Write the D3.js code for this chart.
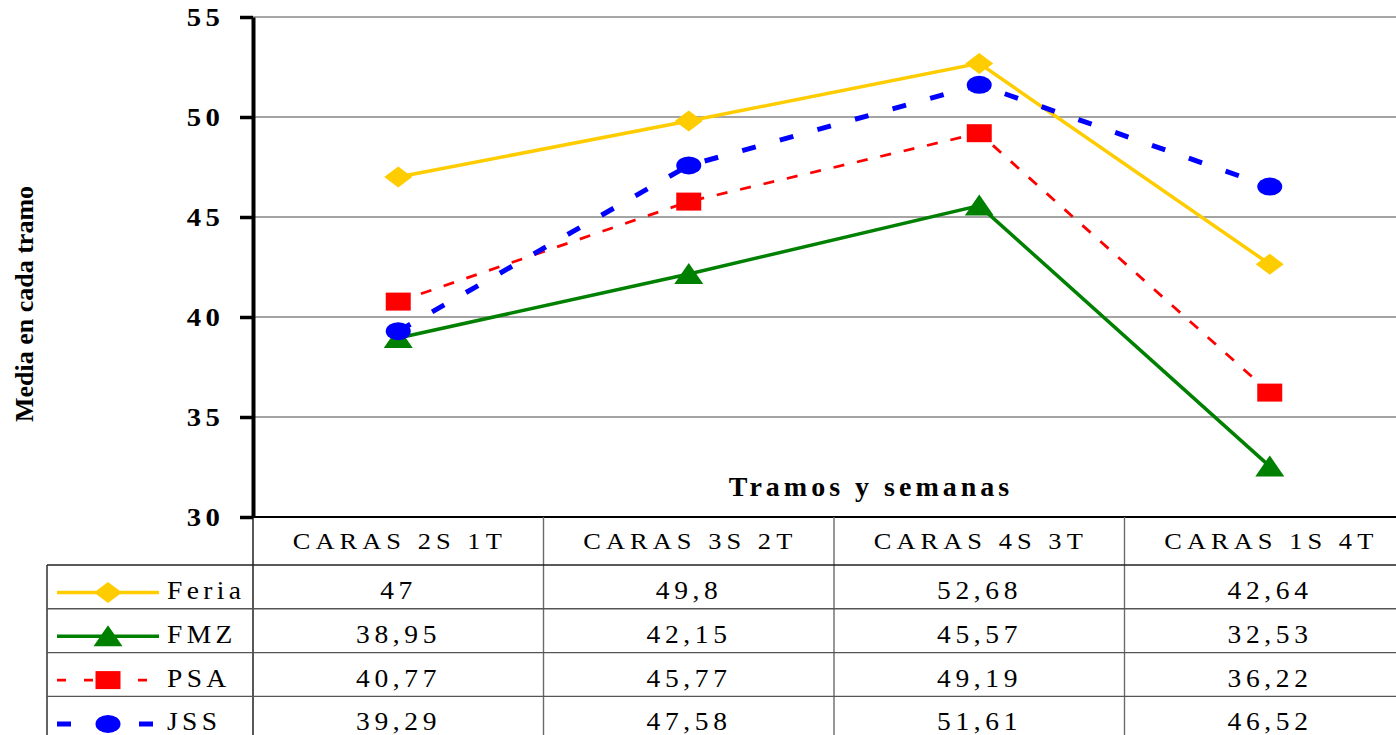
<!DOCTYPE html>
<html><head><meta charset="utf-8">
<script src="https://cdn.jsdelivr.net/npm/d3@7"></script>
<style>
html,body{margin:0;padding:0;background:#fff;overflow:hidden;}
svg{display:block;font-family:"Liberation Serif","Times New Roman",serif;}
</style></head><body>
<svg id="chart" width="1396" height="735"></svg>
<script>
// ---- data ----
const categories = ["CARAS 2S 1T", "CARAS 3S 2T", "CARAS 4S 3T", "CARAS 1S 4T"];
const seriesNames = ["Feria", "FMZ", "PSA", "JSS"];
const feriaValues = [47, 49.8, 52.68, 42.64];
const fmzValues = [38.95, 42.15, 45.57, 32.53];
const psaValues = [40.77, 45.77, 49.19, 36.22];
const jssValues = [39.29, 47.58, 51.61, 46.52];
const yTicks = [30, 35, 40, 45, 50, 55];
const yTitle = "Media en cada tramo";
const xTitle = "Tramos y semanas";

const seriesValues = [feriaValues, fmzValues, psaValues, jssValues];
const seriesStyle = [
  {color: "#FFCC00", width: 3.5, dash: null, legendDash: null, marker: "diamond"},
  {color: "#008000", width: 3.5, dash: null, legendDash: null, marker: "triangle"},
  {color: "#FF0000", width: 2.8, dash: "11,13", legendDash: "9,18", marker: "square"},
  {color: "#0000FF", width: 5, dash: "14,25", legendDash: "14,27", marker: "circle"}
];
const series = seriesNames.map((n, i) => ({name: n, values: seriesValues[i], style: seriesStyle[i]}));

// ---- layout ----
const W = 1396, H = 735;
const plotLeft = 253, bandW = 290.5;
const svg = d3.select("#chart");

const x = d3.scaleBand().domain(categories).range([plotLeft, plotLeft + bandW * categories.length]).padding(0);
const y = d3.scaleLinear().domain([30, 55]).range([517, 17]);
const cx = c => x(c) + x.bandwidth() / 2;

// horizontally stretched text helper
function sText(g, tx, ty, str, o) {
  const sx = o.sx || 1, ls = o.ls || 0;
  const anchor = o.anchor || "start";
  const dx = anchor === "middle" ? ls / 2 : anchor === "end" ? ls : 0;
  return g.append("text")
    .attr("transform", `translate(${tx},${ty}) scale(${sx},1)`)
    .attr("x", 0).attr("y", 0).attr("dx", dx)
    .attr("text-anchor", anchor).attr("font-size", o.size)
    .attr("font-weight", o.weight || "normal").attr("letter-spacing", ls)
    .attr("fill", "#000").text(str);
}

// gridlines
svg.append("g").selectAll("line").data(yTicks.filter(t => t > 30)).join("line")
  .attr("x1", plotLeft).attr("x2", W)
  .attr("y1", d => y(d)).attr("y2", d => y(d))
  .attr("stroke", d => d === 55 ? "#8a8a8a" : "#4a4a4a")
  .attr("stroke-width", d => d === 55 ? 1.6 : 1.2);

// x axis line (top of table)
const xAxis = d3.axisBottom(x).tickSize(0).tickFormat("");
svg.append("g").attr("transform", `translate(0,${y(30)})`).call(xAxis)
  .call(g => g.select(".domain").attr("stroke", "#000").attr("stroke-width", 2.2).attr("d", `M${plotLeft},0H${W}`));

// y axis
const yAxis = d3.axisLeft(y).tickValues(yTicks).tickSize(13).tickSizeOuter(0).tickPadding(20);
const yg = svg.append("g").attr("transform", `translate(${plotLeft},0)`).call(yAxis);
yg.select(".domain").attr("stroke", "#000").attr("stroke-width", 4);
yg.selectAll(".tick line").attr("stroke", "#000").attr("stroke-width", 3.5);
yg.selectAll(".tick text").each(function () {
  const t = d3.select(this);
  const ls = 4;
  t.attr("transform", `translate(-33,0) scale(1.15,1)`).attr("x", 0).attr("dx", ls)
    .attr("dy", "0.35em").attr("font-family", "Liberation Serif, serif")
    .attr("font-size", 25).attr("font-weight", "bold").attr("letter-spacing", ls).attr("fill", "#000");
});

// y title
svg.append("text").attr("transform", "translate(33,304) rotate(-90)")
  .attr("text-anchor", "middle").attr("font-size", 26).attr("font-weight", "bold").text(yTitle);

// x title
sText(svg, 869, 496, xTitle, {size: 28, weight: "bold", ls: 4, anchor: "middle"});

// markers
function markerPath(type) {
  switch (type) {
    case "diamond": return "M-14,0L0,-10.5L14,0L0,10.5Z";
    case "triangle": return "M0,-11L14.5,10L-14.5,10Z";
    case "square": return "M-12.5,-9H12.5V9H-12.5Z";
    case "circle": return "M-12.5,0A12.5,9,0,1,0,12.5,0A12.5,9,0,1,0,-12.5,0Z";
  }
}

// lines
const line = d3.line().x(d => cx(d.cat)).y(d => y(d.v));
const gSeries = svg.append("g");
series.forEach(s => {
  const pts = s.values.map((v, i) => ({cat: categories[i], v}));
  gSeries.append("path").datum(pts).attr("d", line)
    .attr("fill", "none").attr("stroke", s.style.color).attr("stroke-width", s.style.width)
    .attr("stroke-dasharray", s.style.dash).attr("stroke-linejoin", "miter");
});
series.forEach(s => {
  const pts = s.values.map((v, i) => ({cat: categories[i], v}));
  gSeries.append("g").selectAll("path").data(pts).join("path")
    .attr("transform", d => `translate(${cx(d.cat)},${y(d.v)})`)
    .attr("d", markerPath(s.style.marker)).attr("fill", s.style.color);
});

// ---- data table ----
const tableTop = y(30), headerH = 48, rowH = 43.8, legendLeft = 47;
const rowTop = i => tableTop + headerH + i * rowH;
const tg = svg.append("g");
const colEdges = categories.map(c => x(c));
tg.selectAll("line.v").data(colEdges).join("line").attr("class", "v")
  .attr("x1", d => d).attr("x2", d => d).attr("y1", tableTop).attr("y2", H)
  .attr("stroke", (d, i) => i === 0 ? "#111" : "#6a6a6a").attr("stroke-width", 1.4);
tg.append("line").attr("x1", legendLeft).attr("x2", legendLeft).attr("y1", rowTop(0)).attr("y2", H)
  .attr("stroke", "#222").attr("stroke-width", 1.4);
tg.selectAll("line.h").data(series.map((s, i) => rowTop(i))).join("line").attr("class", "h")
  .attr("x1", legendLeft).attr("x2", W).attr("y1", d => d).attr("y2", d => d)
  .attr("stroke", (d, i) => i === 0 ? "#222" : "#555").attr("stroke-width", 1.4);

// header text
categories.forEach(c => sText(tg, cx(c) - 1, tableTop + 32, c, {size: 24, sx: 1.1, ls: 4.6, anchor: "middle"}));

// value cells + legend keys
const fmt = v => String(v).replace(".", ",");
series.forEach((s, i) => {
  s.values.forEach((v, j) => sText(tg, cx(categories[j]) - 2, rowTop(i) + 34, fmt(v), {size: 25, sx: 1.1, ls: 4.2, anchor: "middle"}));
  const ly = rowTop(i) + 27.5;
  tg.append("line").attr("x1", 57).attr("x2", 159).attr("y1", ly).attr("y2", ly)
    .attr("stroke", s.style.color).attr("stroke-width", s.style.width)
    .attr("stroke-dasharray", s.style.legendDash);
  tg.append("path").attr("transform", `translate(108,${ly})`).attr("d", markerPath(s.style.marker))
    .attr("fill", s.style.color);
  sText(tg, 167, rowTop(i) + 34, s.name, {size: 25, sx: 1.1, ls: 4});
});
</script>
</body></html>
